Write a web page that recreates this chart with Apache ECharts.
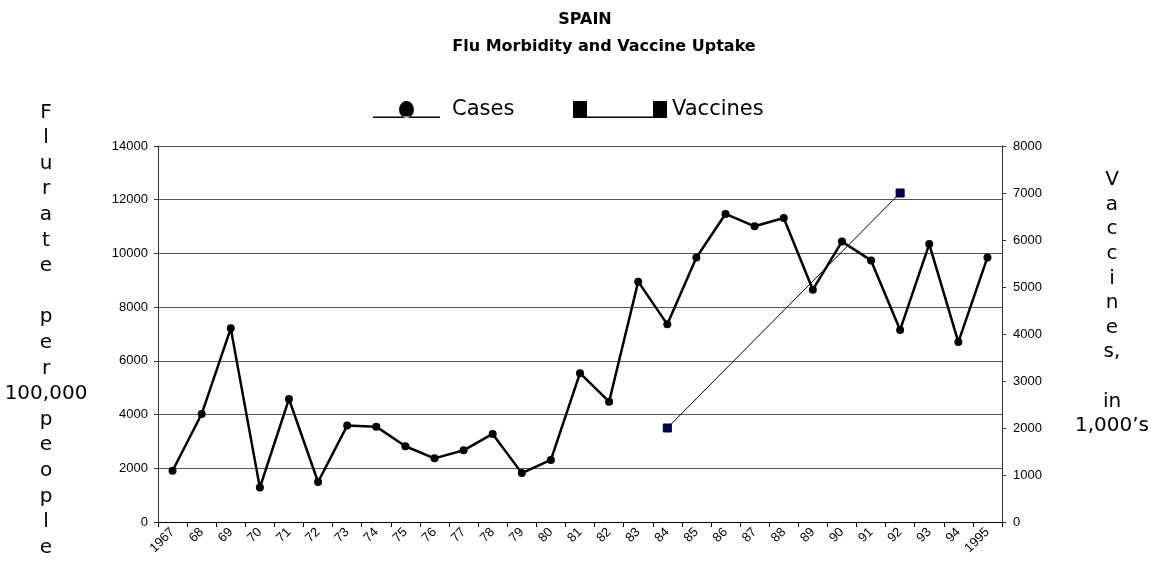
<!DOCTYPE html>
<html><head><meta charset="utf-8">
<script src="https://cdn.jsdelivr.net/npm/echarts@6/dist/echarts.min.js"></script>
<style>html,body{margin:0;padding:0;background:#fff}#c{width:1160px;height:564px}</style>
</head><body><div id="c"></div>
<script>
const years = ['1967','68','69','70','71','72','73','74','75','76','77','78','79','80','81','82','83','84','85','86','87','88','89','90','91','92','93','94','1995'];
const cases = [1910,4020,7210,1280,4580,1490,3590,3550,2820,2370,2670,3280,1820,2310,5540,4480,8950,7360,9850,11470,11010,11320,8650,10440,9740,7150,10350,6700,9850];
const vaccines = [null,null,null,null,null,null,null,null,null,null,null,null,null,null,null,null,null,2000,null,null,null,null,null,null,null,7000,null,null,null];
const leftAxis = {min:0, max:14000, step:2000};
const rightAxis = {min:0, max:8000, step:1000};
const titleLine1 = 'SPAIN';
const titleLine2 = 'Flu Morbidity and Vaccine Uptake';
const leftName = 'F\nl\nu\nr\na\nt\ne\n\np\ne\nr\n100,000\np\ne\no\np\nl\ne';
const rightName = 'V\na\nc\nc\ni\nn\ne\ns,\n\nin\n1,000\u2019s';

const chart = echarts.init(document.getElementById('c'), null, {renderer:'canvas'});
const tickFont = {fontFamily:'Liberation Sans, Arial, sans-serif', fontSize:13, color:'#000'};
const titleFont = {fontFamily:'DejaVu Sans', fontWeight:'bold', fontSize:16, color:'#000'};
const plain = v => String(v);
chart.setOption({
  animation:false,
  backgroundColor:'#fff',
  title:[
    {text:titleLine1, left:580, top:7, textAlign:'center', textStyle:titleFont},
    {text:titleLine2, left:599, top:34, textAlign:'center', textStyle:titleFont}
  ],
  legend:[
    {data:[{name:'Cases', icon:'path://M0,15.5 L67,15.5 L67,17 L0,17 Z M26,8.5 A7.5,8.5 0 1,0 41,8.5 A7.5,8.5 0 1,0 26,8.5 Z'}],
     left:368, top:94, itemWidth:67, itemHeight:17, selectedMode:false,
     itemStyle:{color:'#000', borderWidth:0},
     textStyle:{fontFamily:'DejaVu Sans', fontSize:21, color:'#000', padding:[0,0,0,7]}},
    {data:[{name:'Vaccines', icon:'path://M0,0 L14,0 L14,15.5 L80,15.5 L80,0 L94,0 L94,17 L0,17 Z'}],
     left:568, top:94, itemWidth:94, itemHeight:17, selectedMode:false,
     itemStyle:{color:'#000', borderWidth:0},
     textStyle:{fontFamily:'DejaVu Sans', fontSize:21, color:'#000'}}
  ],
  grid:{left:158, right:158, top:146, bottom:42, containLabel:false},
  xAxis:{type:'category', data:years, boundaryGap:true,
    axisLine:{lineStyle:{color:'#000', width:1}},
    axisTick:{show:true, length:5, interval:0, lineStyle:{color:'#000'}},
    axisLabel:{interval:0, rotate:45, margin:8, ...tickFont},
    splitLine:{show:false}},
  yAxis:[
    {type:'value', position:'left', min:leftAxis.min, max:leftAxis.max, interval:leftAxis.step,
     axisLine:{show:true, lineStyle:{color:'#333'}},
     axisTick:{show:true, length:4, lineStyle:{color:'#333'}},
     axisLabel:{margin:10, formatter:plain, ...tickFont},
     splitLine:{show:true, lineStyle:{color:'#555', width:1}}},
    {type:'value', position:'right', min:rightAxis.min, max:rightAxis.max, interval:rightAxis.step,
     axisLine:{show:true, lineStyle:{color:'#333'}},
     axisTick:{show:true, length:4, lineStyle:{color:'#333'}},
     axisLabel:{margin:11, formatter:plain, ...tickFont},
     splitLine:{show:false}}
  ],
  graphic:[
    {type:'text', x:46, y:330, style:{text:leftName, fontFamily:'DejaVu Sans', fontSize:20, lineHeight:25.6, fill:'#000', textAlign:'center', textVerticalAlign:'middle'}},
    {type:'text', x:1112, y:303, style:{text:rightName, fontFamily:'DejaVu Sans', fontSize:20, lineHeight:24.6, fill:'#000', textAlign:'center', textVerticalAlign:'middle'}}
  ],
  series:[
    {name:'Cases', type:'line', data:cases, yAxisIndex:0, symbol:'circle', symbolSize:8,
     lineStyle:{color:'#000', width:2.5}, itemStyle:{color:'#000'}, z:3},
    {name:'Vaccines', type:'line', data:vaccines, yAxisIndex:1, connectNulls:true, symbol:'rect', symbolSize:8,
     lineStyle:{color:'#000', width:1}, itemStyle:{color:'#000066', borderColor:'#000', borderWidth:1}, z:2}
  ]
});
</script></body></html>
